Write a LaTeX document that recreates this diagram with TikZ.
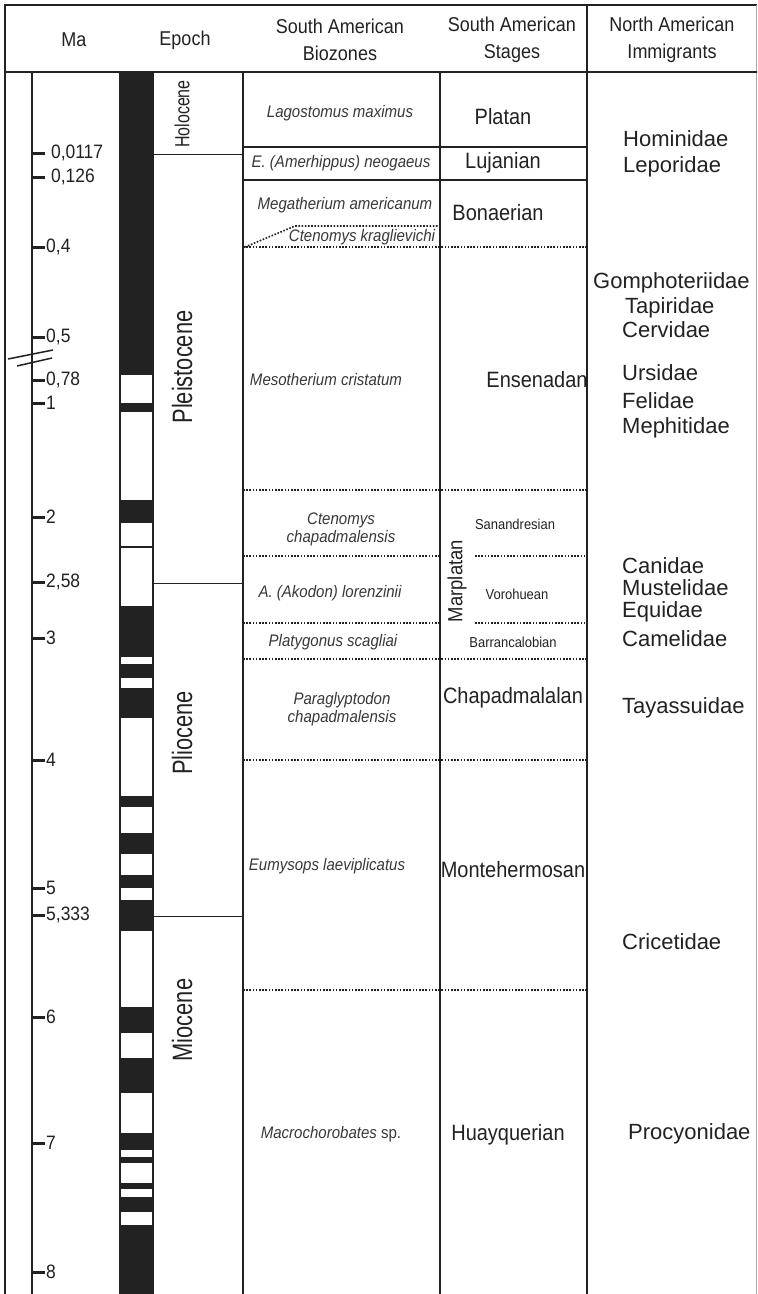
\documentclass[tikz,border=0pt]{standalone}
\usepackage{fontspec}
\setmainfont{Liberation Sans}
\newfontfamily\tallfont[FakeStretch=0.9]{Liberation Sans}
\newfontfamily\epochfont[FakeStretch=0.78]{Liberation Sans}
\definecolor{ink}{HTML}{222222}
\begin{document}
\begin{tikzpicture}[x=1pt,y=-1pt,
  frame/.style={line width=1.8pt, draw=ink},
  thinline/.style={line width=1pt, draw=ink},
  dots/.style={line width=1.6pt, draw=ink, dash pattern=on 1.6pt off 1.6pt},
  hdr/.style={font=\tallfont\fontsize{20}{27}\selectfont, align=center, text=ink, inner sep=0pt},
  malab/.style={anchor=west, font=\tallfont\fontsize{19.4}{20}\selectfont, text=ink, inner sep=0pt},
  epoch/.style={rotate=90, font=\epochfont\fontsize{28}{30}\selectfont, text=ink, inner sep=0pt},
  bio/.style={font=\tallfont\fontsize{16.7}{18}\selectfont\itshape, align=center, text=ink!90, inner sep=0pt},
  stage/.style={font=\tallfont\fontsize{22.2}{24}\selectfont, text=ink, inner sep=0pt},
  substage/.style={font=\tallfont\fontsize{14.4}{15}\selectfont, text=ink, inner sep=0pt},
  imm/.style={anchor=base west, font=\fontsize{22}{24}\selectfont, text=ink, inner sep=0pt}
]
\useasboundingbox (0,0) rectangle (758,1294);
\fill[white] (0,0) rectangle (758,1294);

% frame and columns
\draw[frame] (5,1294) -- (5,5) -- (757,5);
\draw[line width=1pt, draw=black!35] (756.5,5) -- (756.5,1294);
\draw[frame] (5,72) -- (757,72);
\draw[frame] (587,5) -- (587,1294);
\draw[frame] (32,72) -- (32,1294);
\draw[frame] (243,72) -- (243,1294);
\draw[frame] (440,72) -- (440,1294);

% header
\node[hdr] (hMa) at (74,40) {Ma};
\node[hdr] (hEp) at (185,40) {Epoch};
\node[hdr] (hBio) at (340,40) {South American\\Biozones};
\node[hdr] (hSt) at (512,40) {South American\\Stages};
\node[hdr] (hImm) at (672,40) {North American\\Immigrants};

% polarity column
\draw[line width=1.4pt, draw=ink] (120,72) -- (120,1294) (153,72) -- (153,1294);
\foreach \a/\b in {72/375, 403/412, 500/523, 606/657, 664/678, 688/718, 796/807, 833/854, 875/888, 900/931, 1007/1033, 1058/1093, 1133/1150, 1157/1163, 1183/1189, 1197/1212, 1225/1294}
  \fill[ink] (120,\a) rectangle (153,\b);
\draw[line width=1.4pt, draw=ink] (120,547) -- (153,547);

% Ma scale
\foreach \y/\t/\n in {153/{\ 0,0117}/a, 177/{\ 0,126}/b, 247/{0,4}/c, 337/{0,5}/d, 380/{0,78}/e, 403/{1}/f, 517/{2}/g, 582/{2,58}/h, 638/{3}/i, 760/{4}/j, 888/{5}/k, 915/{5,333}/l, 1017/{6}/m, 1143/{7}/n, 1272/{8}/o}{
  \draw[line width=3pt, draw=ink] (33,\y) -- (45,\y);
  \node[malab] (ma\n) at (46,\y) {\t};
}
% axis break
\draw[line width=1.5pt, draw=ink] (8,359) -- (53,350);
\draw[line width=1.5pt, draw=ink] (17,366) -- (52,358);

% epochs
\draw[thinline] (153,154) -- (243,154);
\draw[thinline] (153,583) -- (243,583);
\draw[thinline] (153,916) -- (243,916);
\node[epoch, font=\epochfont\fontsize{20.5}{22}\selectfont] (holo) at (182,114) {Holocene};
\node[epoch] (pleis) at (182,367) {Pleistocene};
\node[epoch] (plio) at (182,733) {Pliocene};
\node[epoch] (mio) at (182,1020) {Miocene};

% biozone / stage boundaries
\draw[frame] (243,147) -- (587,147);
\draw[frame] (243,180) -- (587,180);
\draw[dots] (245,247) -- (295,226) -- (440,226);
\draw[dots] (243,247) -- (587,247);
\draw[dots] (243,490) -- (587,490);
\draw[dots] (243,556) -- (440,556);
\draw[dots] (475,556) -- (587,556);
\draw[dots] (243,623) -- (440,623);
\draw[dots] (475,623) -- (587,623);
\draw[dots] (243,659) -- (587,659);
\draw[dots] (243,760) -- (587,760);
\draw[dots] (243,990) -- (587,990);

% biozones
\node[bio] (bz1) at (340,113) {Lagostomus maximus};
\node[bio] (bz2) at (341,163) {E. (Amerhippus) neogaeus};
\node[bio] (bz3) at (345,205) {Megatherium americanum};
\node[bio] (bz4) at (362,237) {Ctenomys kraglievichi};
\node[bio] (bz5) at (326,380) {Mesotherium cristatum};
\node[bio] (bz6) at (341,529) {Ctenomys\\chapadmalensis};
\node[bio] (bz7) at (330,593) {A. (Akodon) lorenzinii};
\node[bio] (bz8) at (333,642) {Platygonus scagliai};
\node[bio] (bz9) at (342,709) {Paraglyptodon\\chapadmalensis};
\node[bio] (bz10) at (327,866) {Eumysops laeviplicatus};
\node[bio] (bz11) at (331,1134) {Macrochorobates \upshape sp.};

% stages
\node[stage] (st1) at (503,117) {Platan};
\node[stage] (st2) at (503,163) {Lujanian};
\node[stage] (st3) at (498,213) {Bonaerian};
\node[stage] (st4) at (537,380) {Ensenadan};
\node[stage, rotate=90, font=\tallfont\fontsize{20.5}{22}\selectfont] (st5) at (457,581) {Marplatan};
\node[substage] (ss1) at (515,524) {Sanandresian};
\node[substage] (ss2) at (517,594) {Vorohuean};
\node[substage] (ss3) at (513,642) {Barrancalobian};
\node[stage] (st6) at (513,698) {Chapadmalalan};
\node[stage] (st7) at (513,870) {Montehermosan};
\node[stage] (st8) at (508,1135) {Huayquerian};

% immigrants
\node[imm] (im1) at (623,146) {Hominidae};
\node[imm] (im2) at (623,172) {Leporidae};
\node[imm] (im3) at (593,288) {Gomphoteriidae};
\node[imm] (im4) at (625,313) {Tapiridae};
\node[imm] (im5) at (622,337) {Cervidae};
\node[imm] (im6) at (622,380) {Ursidae};
\node[imm] (im7) at (622,408) {Felidae};
\node[imm] (im8) at (622,433) {Mephitidae};
\node[imm] (im9) at (622,573) {Canidae};
\node[imm] (im10) at (622,595) {Mustelidae};
\node[imm] (im11) at (622,617) {Equidae};
\node[imm] (im12) at (622,646) {Camelidae};
\node[imm] (im13) at (622,713) {Tayassuidae};
\node[imm] (im14) at (622,949) {Cricetidae};
\node[imm] (im15) at (628,1139) {Procyonidae};
\end{tikzpicture}
\end{document}
